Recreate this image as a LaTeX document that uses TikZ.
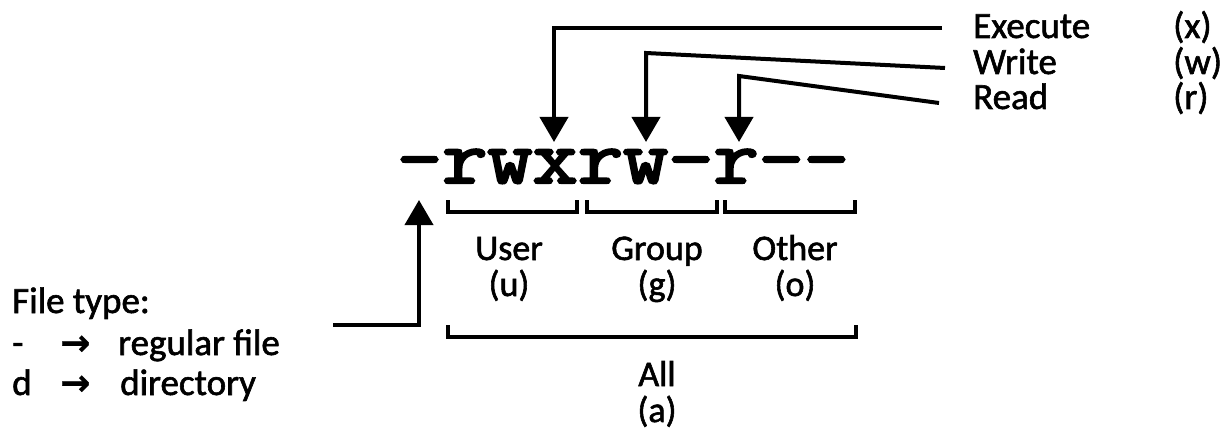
\documentclass[tikz,border=0pt]{standalone}
\usepackage{fontspec}
\setmainfont{Carlito}[FakeBold=1.6]
\newfontfamily\permfont{Latin Modern Mono}[FakeBold=3]
\newfontfamily\arrowfont{DejaVu Sans}[FakeBold=0.8]
\usetikzlibrary{arrows.meta}
\begin{document}
\begin{tikzpicture}[x=1pt,y=-1pt,
  conn/.style={line width=4pt, line join=miter},
  arr/.style={conn, -{Triangle[length=25pt,width=28pt]}},
  brk/.style={line width=4pt, line join=miter},
  rlab/.style={inner sep=0pt, anchor=base west, font=\fontsize{37}{44}\selectfont},
  glab/.style={inner sep=0pt, anchor=base, font=\fontsize{36}{42}\selectfont},
  llab/.style={inner sep=0pt, anchor=base west, font=\fontsize{37}{44}\selectfont},
  arlab/.style={inner sep=0pt, anchor=base west, font=\arrowfont\bfseries\fontsize{36}{42}\selectfont}]
\useasboundingbox (0,0) rectangle (1226,433);
\fill[white] (0,0) rectangle (1226,433);

% permission string
\node[inner sep=0pt, anchor=base] (perm) at (623,183)
  {\scalebox{1.14}[1]{\permfont\fontsize{77}{80}\selectfont -rwxrw-r--}};
\coordinate (cx) at (554,142);
\coordinate (cw) at (646,142);
\coordinate (cr) at (739,142);
\coordinate (ct) at (419,200);

% right labels
\node[rlab] (exe) at (973,38) {Execute};
\node[rlab] (wri) at (973,74) {Write};
\node[rlab] (rea) at (973,109) {Read};
\node[rlab] (exes) at (1173,38) {(x)};
\node[rlab] (wris) at (1173,74) {(w)};
\node[rlab] (reas) at (1173,109) {(r)};
\coordinate (exeE) at (942,28);
\coordinate (wriE) at (945,68);
\coordinate (reaE) at (939,103);
\coordinate (wriK) at (646,53);
\coordinate (reaK) at (739,76);

\draw[arr] (exeE) -| (cx);
\draw[arr] (wriE) -- (wriK) -- (cw);
\draw[arr] (reaE) -- (reaK) -- (cr);

% brackets
\draw[brk] (448,200) -- (448,212) -- (577,212) -- (577,200);
\draw[brk] (587,200) -- (587,212) -- (717,212) -- (717,200);
\draw[brk] (725,200) -- (725,212) -- (855,212) -- (855,200);
\draw[brk] (448,325) -- (448,337) -- (856,337) -- (856,325);

% group labels
\node[glab] (usr) at (509,260) {User};
\node[glab] (usrs) at (509,296) {(u)};
\node[glab] (grp) at (657,260) {Group};
\node[glab] (grps) at (657,296) {(g)};
\node[glab] (oth) at (795,260) {Other};
\node[glab] (oths) at (795,296) {(o)};
\node[glab] (all) at (657,386) {All};
\node[glab] (alls) at (657,422) {(a)};

% file type
\node[llab] (ft) at (12,313) {File type:};
\node[llab] (ftd) at (12,355) {-};
\node[arlab] (fta1) at (60,355) {→};
\node[llab] (ftr) at (118,355) {regular file};
\node[llab] (ftdd) at (12,395) {d};
\node[arlab] (fta2) at (60,395) {→};
\node[llab] (ftdir) at (120,395) {directory};
\coordinate (ftE) at (333,325);
\draw[arr] (ftE) -| (ct);
\end{tikzpicture}
\end{document}
